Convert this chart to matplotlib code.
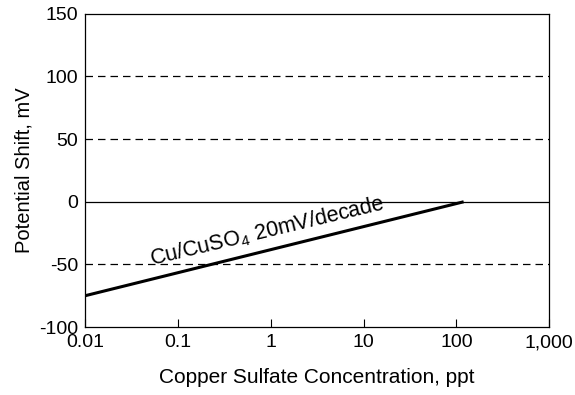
import numpy as np
import matplotlib
matplotlib.use("Agg")
import matplotlib.pyplot as plt

plt.rcParams['font.family'] = ['Liberation Sans', 'DejaVu Sans']
plt.rcParams['axes.unicode_minus'] = False
plt.rcParams['mathtext.fontset'] = 'custom'
plt.rcParams['mathtext.rm'] = 'Liberation Sans'

# Data
conc = [0.01, 120]
shift = [-75, 0]
x_ticks = [0.01, 0.1, 1, 10, 100, 1000]
x_labels = ["0.01", "0.1", "1", "10", "100", "1,000"]
y_ticks = [-100, -50, 0, 50, 100, 150]
dashed_levels = [-50, 50, 100]

fig = plt.figure(figsize=(5.75, 3.95), dpi=100)
ax = fig.add_axes([0.148, 0.172, 0.807, 0.793])

# Reference lines
for lvl in dashed_levels:
    ax.axhline(lvl, color="black", linestyle=(0, (6, 4)), linewidth=0.9)
ax.axhline(0, color="black", linewidth=0.9)

# Electrode line
ax.plot(conc, shift, color="black", linewidth=2.2, solid_capstyle="butt")
ax.text(0.93, -24, r"Cu/CuSO$_\mathrm{4}$ 20mV/decade", rotation=13.5, ha="center",
        va="center", rotation_mode="anchor", fontsize=15.5)

ax.set_xscale("log")
ax.set_xlim(0.01, 1000)
ax.set_ylim(-100, 150)
ax.set_xticks(x_ticks)
ax.set_xticklabels(x_labels)
ax.minorticks_off()
ax.set_yticks(y_ticks)
ax.tick_params(axis="x", direction="in", length=6, width=0.8, labelsize=14, pad=5)
ax.tick_params(axis="y", length=0, labelsize=14, pad=5)
for s in ax.spines.values():
    s.set_linewidth(0.9)

ax.set_xlabel("Copper Sulfate Concentration, ppt", fontsize=15, labelpad=12)
ax.set_ylabel("Potential Shift, mV", fontsize=14.5, labelpad=4)

plt.savefig("out.png", dpi=100)
plt.close()
